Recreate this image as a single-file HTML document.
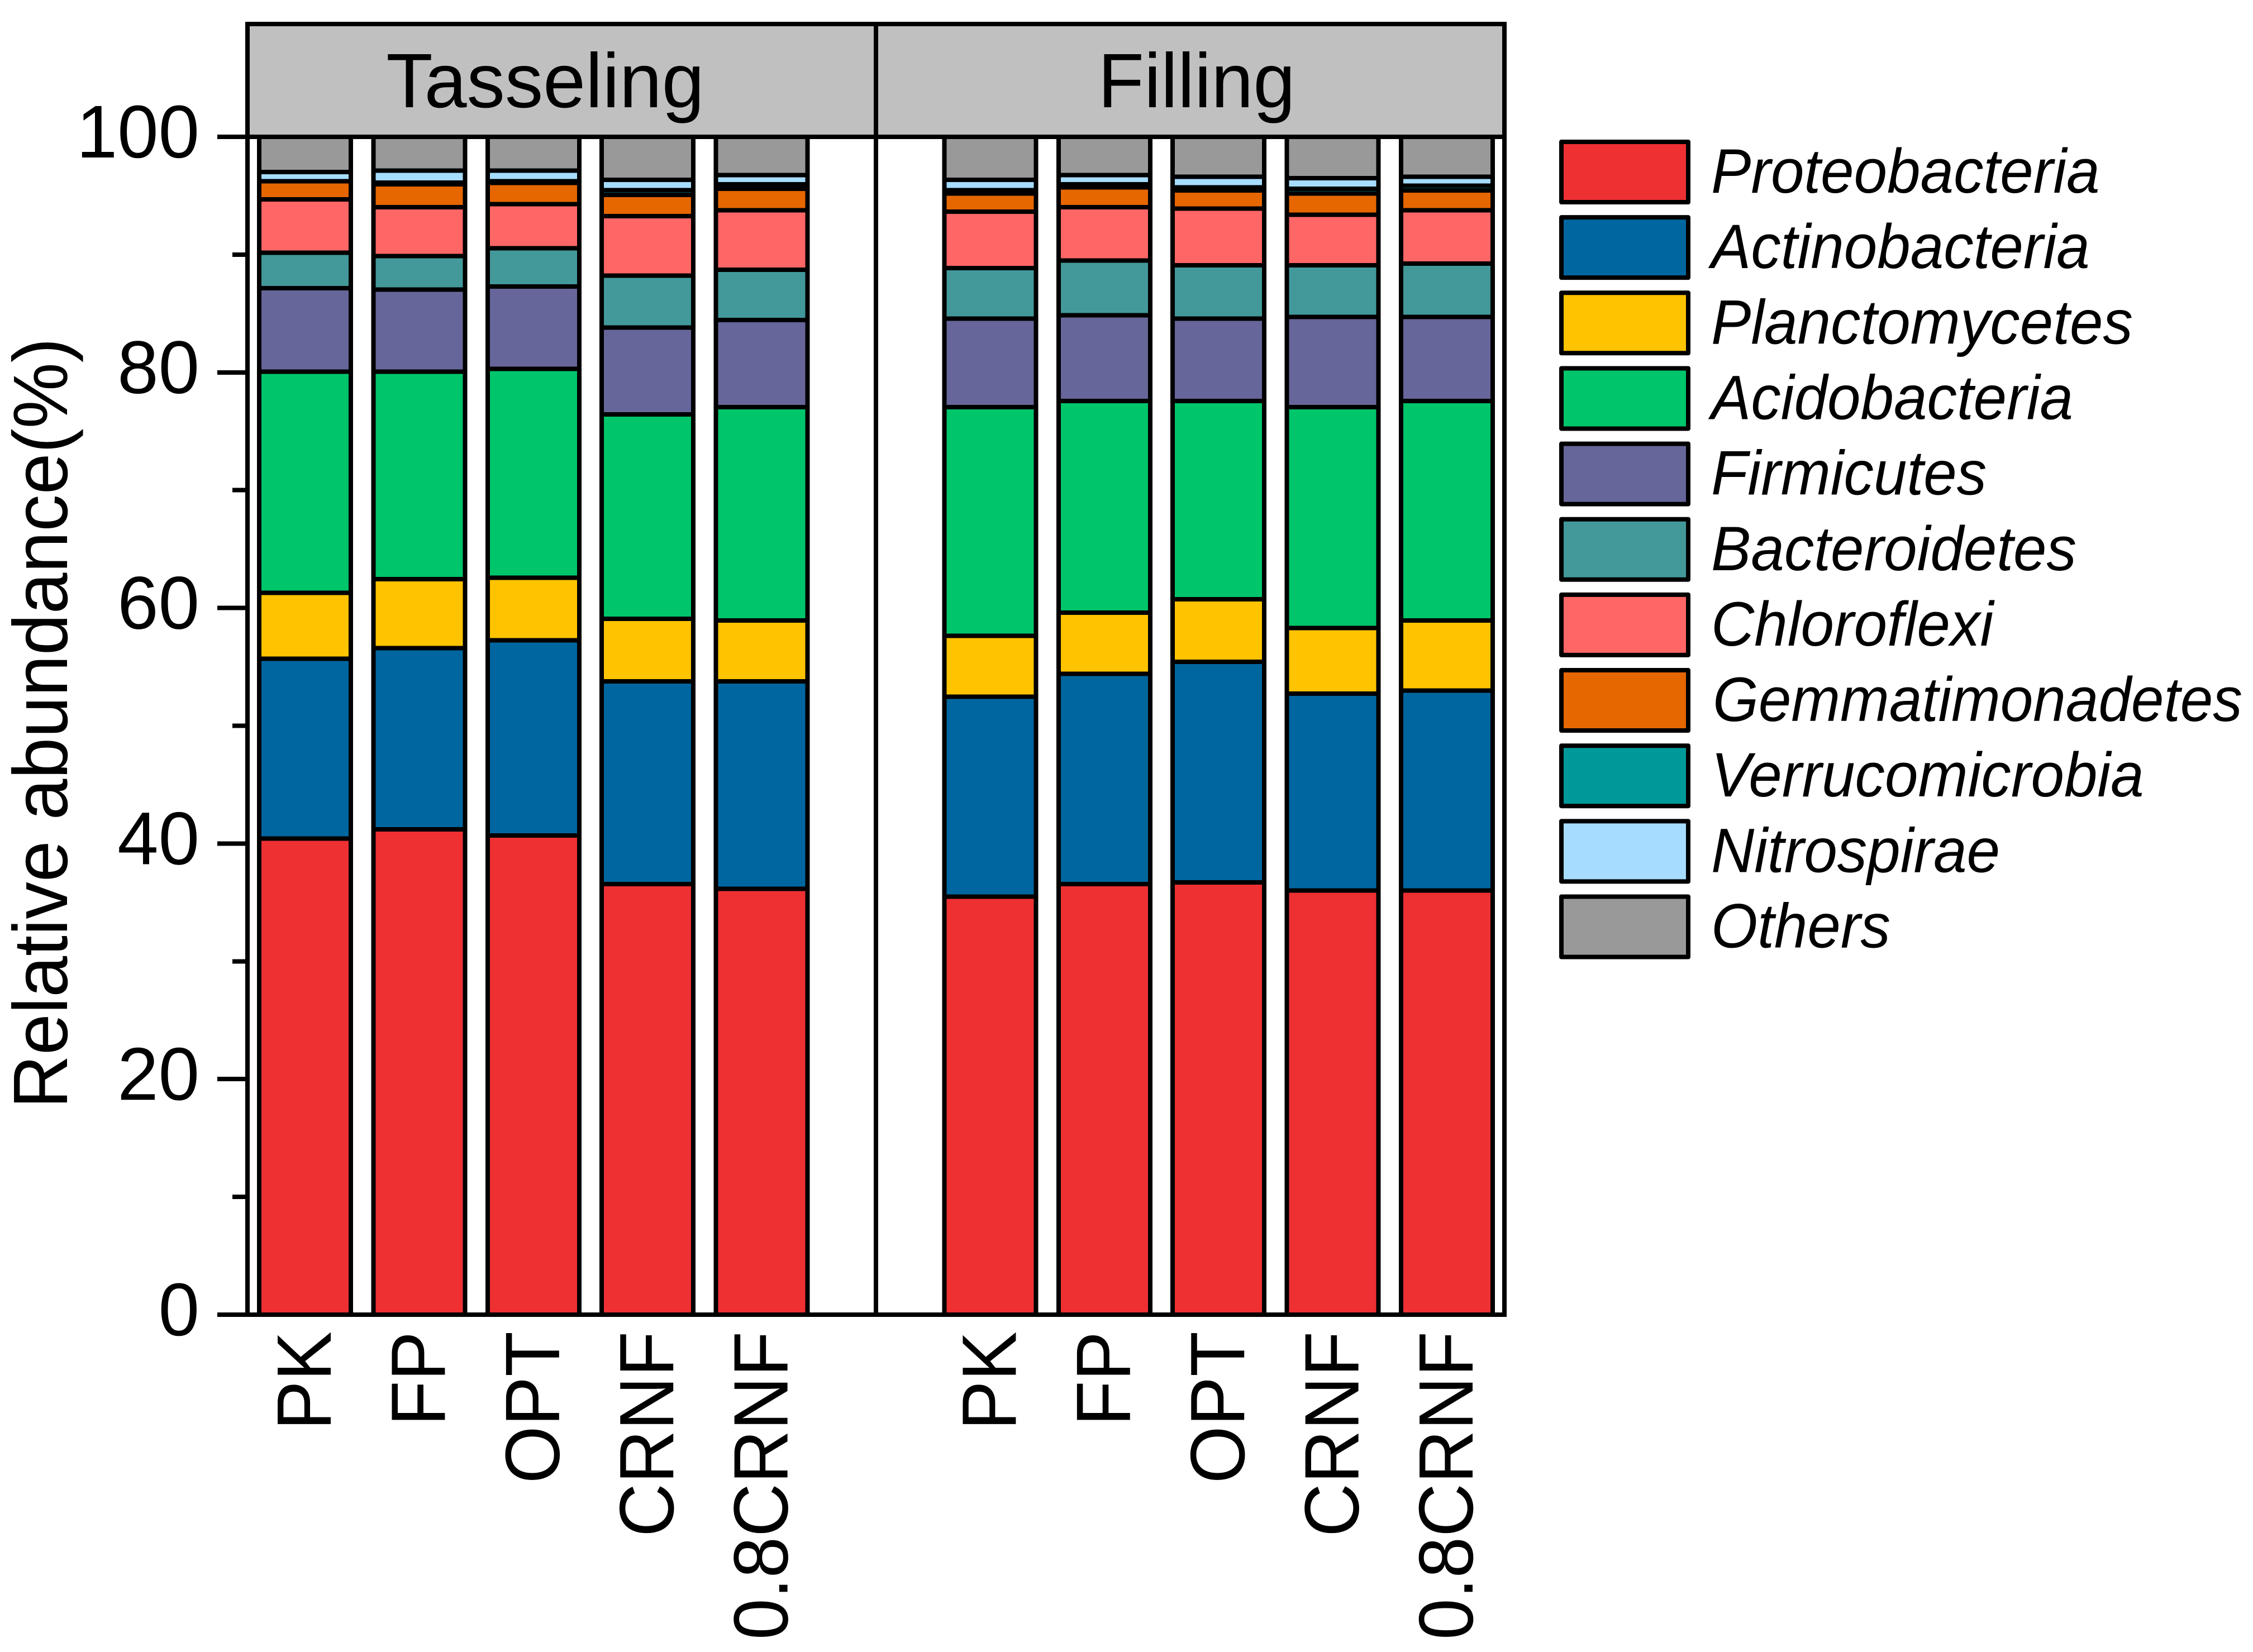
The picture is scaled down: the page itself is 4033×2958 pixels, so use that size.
<!DOCTYPE html>
<html lang="en">
<head>
<meta charset="utf-8">
<title>Relative abundance of bacterial phyla</title>
<style>
html,body{margin:0;padding:0;background:#fff;width:4033px;height:2958px;overflow:hidden}
svg{display:block}
text{font-family:"Liberation Sans",Arial,sans-serif;fill:#000}
</style>
</head>
<body>
<svg id="chart" xmlns="http://www.w3.org/2000/svg" width="4033" height="2958" viewBox="0 0 4033 2958">
  <rect x="443" y="43" width="1125" height="202" fill="#c0c0c0"/>
  <rect x="1568" y="43" width="1125" height="202" fill="#c0c0c0"/>
  <text transform="translate(976 192) scale(0.99 1)" font-size="138" text-anchor="middle">Tasseling</text>
  <text transform="translate(2142 192) scale(0.98 1)" font-size="138" text-anchor="middle">Filling</text>
  <g id="bars"></g>
  <g id="frame" stroke="#000" stroke-width="8" shape-rendering="crispEdges">
    <line x1="439" y1="43" x2="2697" y2="43"/>
    <line x1="443" y1="39" x2="443" y2="2358"/>
    <line x1="1568" y1="43" x2="1568" y2="2358"/>
    <line x1="2693" y1="39" x2="2693" y2="2358"/>
    <line x1="443" y1="245" x2="2697" y2="245"/>
    <line x1="443" y1="2354" x2="2697" y2="2354"/>
  </g>
  <g id="y-axis"></g>
  <g id="x-axis"></g>
  <text transform="translate(120 1295) rotate(-90) scale(0.962 1)" font-size="138" text-anchor="middle">Relative abundance(%)</text>
  <g id="legend"></g>
</svg>
<script>
const samples = ["PK","FP","OPT","CRNF","0.8CRNF","PK","FP","OPT","CRNF","0.8CRNF"];
const seriesNames = ["Proteobacteria","Actinobacteria","Planctomycetes","Acidobacteria","Firmicutes","Bacteroidetes","Chloroflexi","Gemmatimonadetes","Verrucomicrobia","Nitrospirae","Others"];
const seriesColors = ["#ee3033","#00669f","#ffc300","#00c56b","#66669a","#43999a","#ff6666","#e66600","#009999","#a6dcff","#999999"];
const proteobacteria = [40.43,41.2,40.68,36.56,36.16,35.49,36.56,36.69,36.02,36.02];
const actinobacteria = [15.27,15.4,16.57,17.21,17.61,16.98,17.85,18.75,16.7,16.97];
const planctomycetes = [5.59,5.85,5.32,5.31,5.17,5.17,5.19,5.3,5.57,5.95];
const acidobacteria = [18.76,17.6,17.74,17.35,18.12,19.42,17.98,16.84,18.77,18.64];
const firmicutes = [7.11,6.99,6.98,7.37,7.38,7.51,7.26,6.99,7.64,7.12];
const bacteroidetes = [2.99,2.84,3.25,4.41,4.27,4.28,4.66,4.53,4.4,4.53];
const chloroflexi = [4.54,4.14,3.75,5.05,5.06,4.79,4.52,4.8,4.29,4.54];
const gemmatimonadetes = [1.54,1.95,1.8,1.8,1.82,1.55,1.69,1.54,1.8,1.67];
const verrucomicrobia = [0,0.14,0.14,0.4,0.39,0.27,0.27,0.27,0.4,0.4];
const nitrospirae = [0.78,1.03,0.91,0.9,0.78,0.9,0.78,0.9,0.9,0.77];
const others = [2.99,2.86,2.86,3.64,3.24,3.64,3.24,3.39,3.51,3.39];
const seriesValues = [proteobacteria,actinobacteria,planctomycetes,acidobacteria,firmicutes,bacteroidetes,chloroflexi,gemmatimonadetes,verrucomicrobia,nitrospirae,others];
const majorTicks = [0,20,40,60,80,100];
const minorTicks = [10,30,50,70,90];

const NS = "http://www.w3.org/2000/svg";
function yScale(v){ return 2354 - v * 21.09; }
function xScale(i){ const slot = i < 5 ? i : i + 1; return 546 + slot * 204.4; }
const BAR_W = 164;

const barsG = document.getElementById("bars");
samples.forEach(function(sample, i){
  let cum = 0;
  seriesValues.forEach(function(vals, s){
    const v = vals[i];
    const yTop = yScale(Math.min(cum + v, 100));
    const yBot = yScale(cum);
    cum += v;
    const r = document.createElementNS(NS, "rect");
    
    
    r.setAttribute("x", xScale(i) - BAR_W / 2);
    r.setAttribute("y", yTop);
    r.setAttribute("width", BAR_W);
    r.setAttribute("height", Math.max(yBot - yTop, 0));
    r.setAttribute("fill", seriesColors[s]);
    r.setAttribute("stroke", "#000");
    r.setAttribute("stroke-width", "8");
    r.setAttribute("shape-rendering", "crispEdges");
    barsG.appendChild(r);
  });
});

const yG = document.getElementById("y-axis");
majorTicks.forEach(function(t){
  const l = document.createElementNS(NS, "line");
  
  
  l.setAttribute("x1", 389); l.setAttribute("x2", 443);
  l.setAttribute("y1", yScale(t)); l.setAttribute("y2", yScale(t));
  l.setAttribute("stroke", "#000"); l.setAttribute("stroke-width", "8");
  l.setAttribute("shape-rendering", "crispEdges");
  yG.appendChild(l);
  const tx = document.createElementNS(NS, "text");
  
  
  tx.setAttribute("transform", "translate(357 " + (yScale(t) + 37) + ") scale(0.985 1)");
  tx.setAttribute("font-size", "134");
  tx.setAttribute("text-anchor", "end");
  tx.textContent = t;
  yG.appendChild(tx);
});
minorTicks.forEach(function(t){
  const l = document.createElementNS(NS, "line");
  
  
  l.setAttribute("x1", 416); l.setAttribute("x2", 443);
  l.setAttribute("y1", yScale(t)); l.setAttribute("y2", yScale(t));
  l.setAttribute("stroke", "#000"); l.setAttribute("stroke-width", "8");
  l.setAttribute("shape-rendering", "crispEdges");
  yG.appendChild(l);
});

const xG = document.getElementById("x-axis");
samples.forEach(function(sample, i){
  const tx = document.createElementNS(NS, "text");
  
  
  tx.setAttribute("transform", "translate(" + (xScale(i) + 46) + " 2384) rotate(-90) scale(0.96 1)");
  tx.setAttribute("font-size", "138");
  tx.setAttribute("text-anchor", "end");
  tx.textContent = sample;
  xG.appendChild(tx);
});

const legendG = document.getElementById("legend");
seriesNames.forEach(function(name, s){
  const cy = 308 + s * 135.15;
  const r = document.createElementNS(NS, "rect");
  
  
  r.setAttribute("x", 2795);
  r.setAttribute("y", cy - 54);
  r.setAttribute("width", 227);
  r.setAttribute("height", 108);
  r.setAttribute("fill", seriesColors[s]);
  r.setAttribute("stroke", "#000");
  r.setAttribute("stroke-width", "8");
  r.setAttribute("stroke-linejoin", "round");
  legendG.appendChild(r);
  const tx = document.createElementNS(NS, "text");
  
  
  const sx = name === "Gemmatimonadetes" ? 0.94 : 0.955;
  tx.setAttribute("transform", "translate(" + (name === "Gemmatimonadetes" ? 3066 : 3063) + " " + (cy + 37) + ") scale(" + sx + " 1)");
  tx.setAttribute("font-size", "112");
  tx.setAttribute("font-style", "italic");
  tx.textContent = name;
  legendG.appendChild(tx);
});
</script>
</body>
</html>
